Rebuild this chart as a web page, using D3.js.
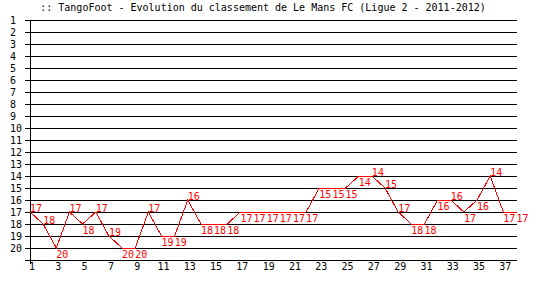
<!DOCTYPE html>
<html lang="fr">
<head>
<meta charset="UTF-8">
<title>TangoFoot - Le Mans FC</title>
<script src="https://cdnjs.cloudflare.com/ajax/libs/d3/7.8.5/d3.min.js"></script>
<style>
  body { margin: 0; background: #fff; }
  svg { display: block; }
  text { font-family: "DejaVu Sans Mono", monospace; font-size: 10px; }
</style>
</head>
<body>
<svg id="chart" width="540" height="300"></svg>
<script>
// journees 1..38, classement a chaque journee
var journees = d3.range(1, 39);
var classement = [17, 18, 20, 17, 18, 17, 19, 20, 20, 17,
                  19, 19, 16, 18, 18, 18, 17, 17, 17, 17,
                  17, 17, 15, 15, 15, 14, 14, 15, 17, 18,
                  18, 16, 16, 17, 16, 14, 17, 17];
var rangs = d3.range(1, 21);           // labels 1..20
var xLabels = d3.range(1, 38, 2);      // 1,3,...,37
var titre = ":: TangoFoot - Evolution du classement de Le Mans FC (Ligue 2 - 2011-2012)";

var svg = d3.select("#chart");

var x = d3.scaleLinear().domain([1, 38]).range([30, 516.5]);
var y = d3.scaleLinear().domain([1, 21]).range([20, 260]);

// title
svg.append("text")
    .attr("x", 263)
    .attr("y", 11)
    .attr("text-anchor", "middle")
    .attr("fill", "#000")
    .text(titre);

// horizontal grid lines (+ x axis at level 21)
svg.append("g")
  .selectAll("line")
  .data(d3.range(1, 22))
  .enter()
  .append("line")
    .attr("x1", 25)
    .attr("x2", x(38))
    .attr("y1", function(d) { return Math.round(y(d)) + 0.5; })
    .attr("y2", function(d) { return Math.round(y(d)) + 0.5; })
    .attr("stroke", "#000")
    .attr("shape-rendering", "crispEdges");

// y axis line
svg.append("line")
    .attr("x1", 30.5).attr("x2", 30.5)
    .attr("y1", y(1)).attr("y2", y(21) + 4)
    .attr("stroke", "#000")
    .attr("shape-rendering", "crispEdges");

// y labels
svg.append("g")
  .selectAll("text")
  .data(rangs)
  .enter()
  .append("text")
    .attr("x", 10)
    .attr("y", function(d) { return y(d); })
    .attr("dy", "0.36em")
    .attr("fill", "#000")
    .text(function(d) { return d; });

// x labels
svg.append("g")
  .selectAll("text")
  .data(xLabels)
  .enter()
  .append("text")
    .attr("x", function(d) { return x(d) + 2; })
    .attr("y", 270)
    .attr("text-anchor", "middle")
    .attr("fill", "#000")
    .text(function(d) { return d; });

// the line
var line = d3.line()
    .x(function(d, i) { return x(journees[i]); })
    .y(function(d) { return y(d); });

svg.append("path")
    .datum(classement)
    .attr("d", line)
    .attr("fill", "none")
    .attr("stroke", "red")
    .attr("stroke-width", 1)
    .attr("shape-rendering", "crispEdges");

// value labels: above the point when next rank is worse, below otherwise
svg.append("g")
  .selectAll("text")
  .data(classement)
  .enter()
  .append("text")
    .attr("x", function(d, i) { return x(journees[i]); })
    .attr("y", function(d, i) {
        var next = classement[i + 1];
        if (next !== undefined && next > d) return y(d) - 0.5;
        return y(d) + 10;
    })
    .attr("fill", "red")
    .text(function(d) { return d; });
</script>
</body>
</html>
